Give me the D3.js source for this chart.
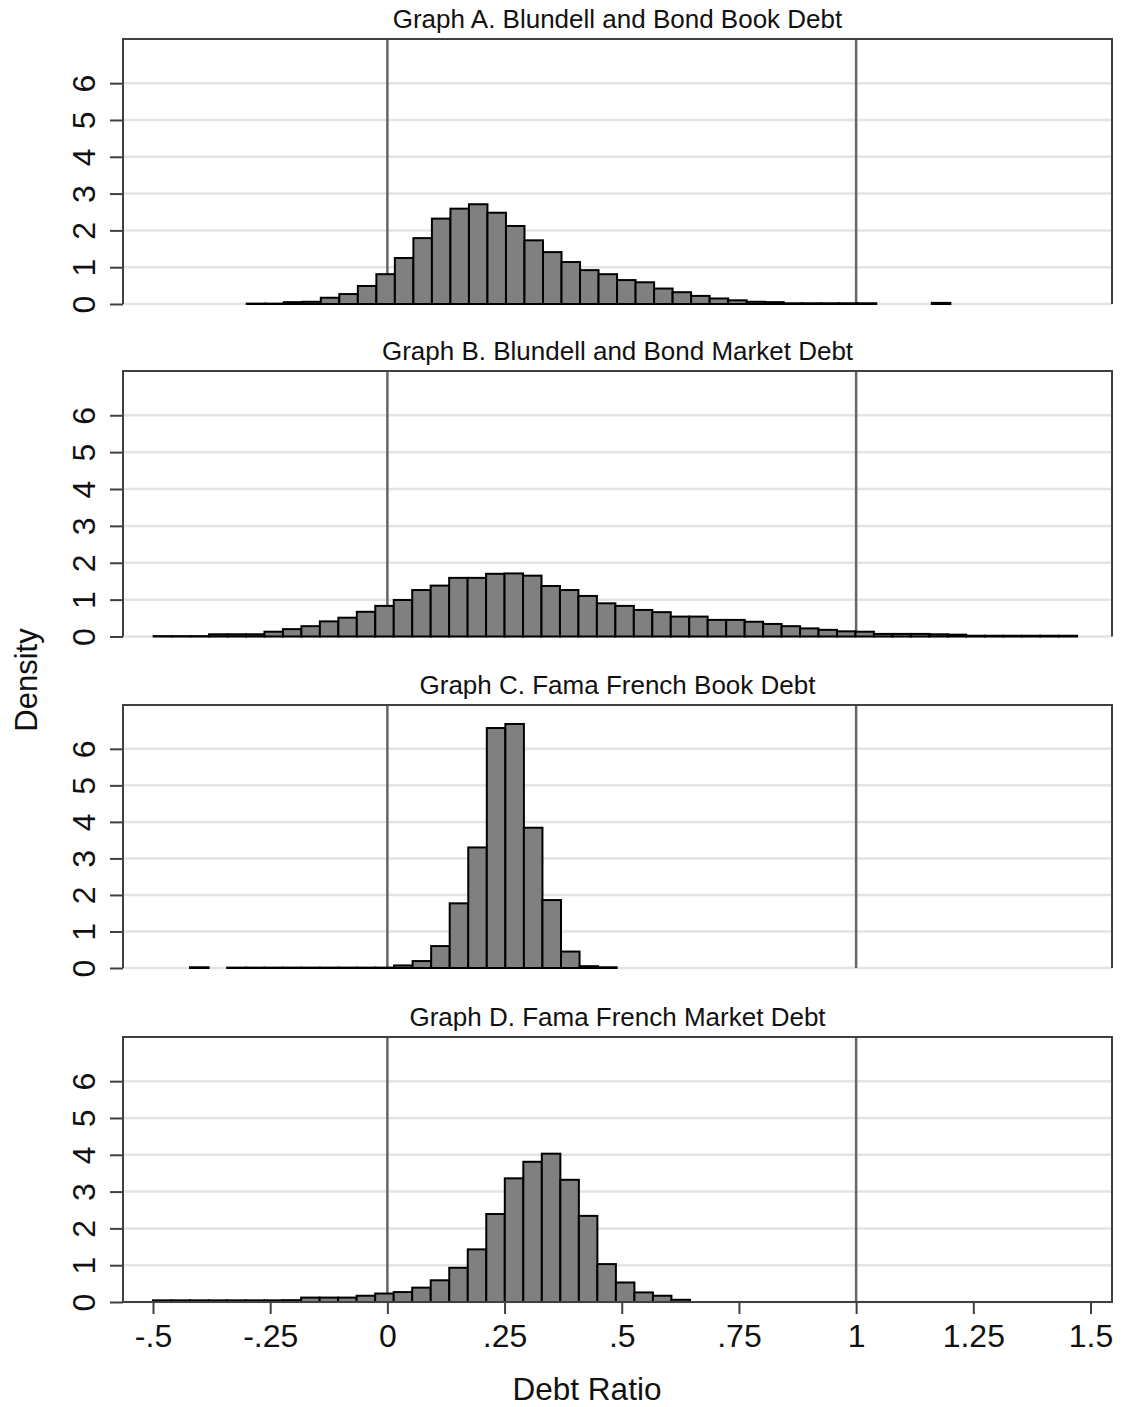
<!DOCTYPE html>
<html>
<head>
<meta charset="utf-8">
<script src="https://cdn.jsdelivr.net/npm/d3@7"></script>
<style>
  body { margin: 0; background: #fff; }
  text { font-family: "Liberation Sans", Arial, sans-serif; fill: #111; }
</style>
</head>
<body>
<div id="chart"></div>
<script>
// Panel titles
const titles = [
    "Graph A. Blundell and Bond Book Debt",
    "Graph B. Blundell and Bond Market Debt",
    "Graph C. Fama French Book Debt",
    "Graph D. Fama French Market Debt"
]

// Histogram bins: lower edge of first bin and bin width, per panel
const binStarts = [-0.3, -0.4986, -0.421, -0.5]
const binWidths = [0.0395, 0.0394, 0.03957, 0.0395]

// Bar densities
const densA = [0.01, 0.01, 0.05, 0.06, 0.17, 0.27, 0.49, 0.81, 1.25, 1.79,
    2.32, 2.59, 2.71, 2.48, 2.12, 1.73, 1.41, 1.14, 0.92, 0.81,
    0.65, 0.59, 0.42, 0.32, 0.22, 0.15, 0.10, 0.06, 0.05, 0.02,
    0.02, 0.02, 0.02, 0.02, 0, 0, 0, 0.03]
const densB = [0.01, 0.01, 0.01, 0.06, 0.06, 0.06, 0.13, 0.20, 0.28, 0.41,
    0.51, 0.67, 0.83, 0.99, 1.26, 1.38, 1.59, 1.59, 1.70, 1.71,
    1.65, 1.37, 1.26, 1.10, 0.90, 0.83, 0.72, 0.66, 0.54, 0.54,
    0.45, 0.45, 0.40, 0.34, 0.28, 0.22, 0.18, 0.14, 0.13, 0.07,
    0.07, 0.07, 0.06, 0.05, 0.02, 0.02, 0.02, 0.02, 0.02, 0.02]
const densC = [0.02, 0, 0.01, 0.01, 0.01, 0.01, 0.01, 0.01, 0.01, 0.01,
    0.01, 0.07, 0.19, 0.60, 1.77, 3.30, 6.57, 6.68, 3.84, 1.86,
    0.45, 0.05, 0.02]
const densD = [0.045, 0.045, 0.045, 0.045, 0.045, 0.045, 0.045, 0.05, 0.12, 0.12,
    0.12, 0.17, 0.23, 0.27, 0.39, 0.59, 0.93, 1.43, 2.39, 3.36,
    3.81, 4.03, 3.32, 2.34, 1.03, 0.53, 0.26, 0.17, 0.06]
const densities = [densA, densB, densC, densD]

// Axis ticks
const yTicks = [0, 1, 2, 3, 4, 5, 6]
const xTicks = [-0.5, -0.25, 0, 0.25, 0.5, 0.75, 1, 1.25, 1.5]
const refLines = [0, 1]

const width = 1126, height = 1407
const left = 123, right = 1112
const panelTops = [39, 371, 705, 1037]
const panelBottoms = [304, 636.5, 968, 1302]

const svg = d3.select("#chart").append("svg")
    .attr("width", width)
    .attr("height", height)

const x = d3.scaleLinear().domain([-0.5, 1.5]).range([153, 1090.5])

const fmt = d => d === 0 ? "0" : String(d).replace("0.", ".")

densities.forEach((dens, p) => {
    const top = panelTops[p], bottom = panelBottoms[p]
    const y = d3.scaleLinear().domain([0, 7.2]).range([bottom, top])
    const g = svg.append("g")

    // gridlines
    g.selectAll("line.grid")
        .data(yTicks)
        .enter()
        .append("line")
            .attr("x1", left).attr("x2", right)
            .attr("y1", d => y(d)).attr("y2", d => y(d))
            .attr("stroke", "#e4e4e4")
            .attr("stroke-width", 2.5)

    // reference lines at 0 and 1
    g.selectAll("line.ref")
        .data(refLines)
        .enter()
        .append("line")
            .attr("x1", d => x(d)).attr("x2", d => x(d))
            .attr("y1", top).attr("y2", bottom)
            .attr("stroke", "#666")
            .attr("stroke-width", 2.5)

    // bars
    const bins = dens.map((v, i) => ({
        x0: binStarts[p] + i * binWidths[p],
        x1: binStarts[p] + (i + 1) * binWidths[p],
        v: v
    })).filter(b => b.v > 0)

    g.selectAll("rect")
        .data(bins)
        .enter()
        .append("rect")
            .attr("x", d => x(d.x0))
            .attr("width", d => x(d.x1) - x(d.x0))
            .attr("y", d => y(d.v))
            .attr("height", d => y(0) - y(d.v))
            .attr("fill", "#808080")
            .attr("stroke", "#000")
            .attr("stroke-width", 2)

    // frame: left, top, right (bottom only on last panel)
    const framePath = p === 3
        ? `M${left},${bottom}V${top}H${right}V${bottom}Z`
        : `M${left},${bottom}V${top}H${right}V${bottom}`
    g.append("path")
        .attr("d", framePath)
        .attr("fill", "none")
        .attr("stroke", "#404040")
        .attr("stroke-width", 2)

    // y axis
    const yAxis = g.append("g")
        .attr("transform", `translate(${left},0)`)
        .call(d3.axisLeft(y).tickValues(yTicks).tickSize(13).tickFormat(d3.format("d")))
    yAxis.select(".domain").remove()
    yAxis.selectAll(".tick line").attr("stroke", "#404040").attr("stroke-width", 2)
    yAxis.selectAll(".tick text")
        .attr("x", null)
        .attr("dy", null)
        .attr("transform", "translate(-28,0) rotate(-90)")
        .attr("text-anchor", "middle")
        .style("font-size", "32px")
        .style("font-family", "Liberation Sans, Arial, sans-serif")
        .attr("fill", "#111")

    // title
    svg.append("text")
        .attr("x", (left + right) / 2)
        .attr("y", top - 11.5)
        .attr("text-anchor", "middle")
        .style("font-size", "26px")
        .text(titles[p])

    if (p === 3) {
        const xAxis = g.append("g")
            .attr("transform", `translate(0,${bottom})`)
            .call(d3.axisBottom(x).tickValues(xTicks).tickSize(12).tickPadding(10).tickFormat(fmt))
        xAxis.select(".domain").remove()
        xAxis.selectAll(".tick line").attr("stroke", "#404040").attr("stroke-width", 2)
        xAxis.selectAll(".tick text")
            .style("font-size", "32px")
            .style("font-family", "Liberation Sans, Arial, sans-serif")
            .attr("fill", "#111")
    }
})

svg.append("text")
    .attr("transform", "translate(37,680) rotate(-90)")
    .attr("text-anchor", "middle")
    .style("font-size", "31px")
    .text("Density")

svg.append("text")
    .attr("x", 587)
    .attr("y", 1400)
    .attr("text-anchor", "middle")
    .style("font-size", "31.5px")
    .text("Debt Ratio")
</script>
</body>
</html>
